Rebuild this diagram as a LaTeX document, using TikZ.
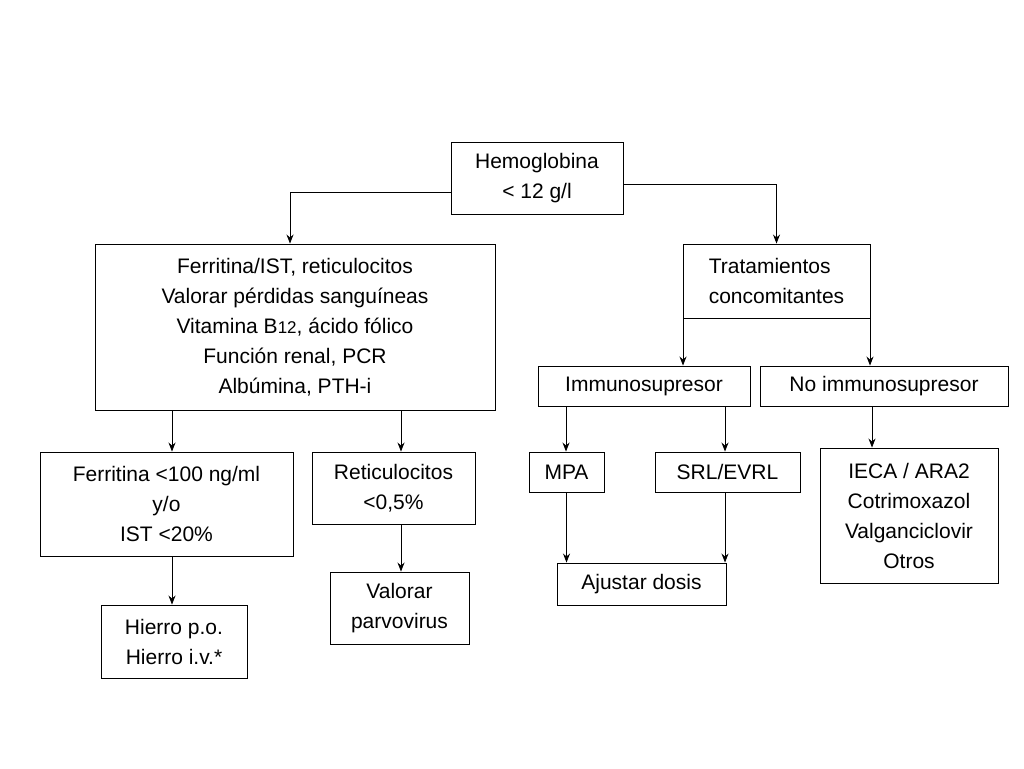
\documentclass[tikz,border=0pt]{standalone}
\usepackage{fontspec}
\setmainfont{Liberation Sans}
\usetikzlibrary{arrows.meta}
\begin{document}
\begin{tikzpicture}[x=1pt,y=-1pt,
  box/.style={draw,line width=0.9pt,inner sep=0pt,align=center,font=\fontsize{21}{30}\selectfont},
  arr/.style={line width=0.9pt,-{Stealth[length=9pt,width=7pt]}}]
\useasboundingbox (0,0) rectangle (1024,768);
\node[box,minimum width=172,minimum height=72] (h) at (537,178) {Hemoglobina\\< 12 g/l};
\node[box,minimum width=400,minimum height=166] (f) at (295,327) {Ferritina/IST, reticulocitos\\Valorar pérdidas sanguíneas\\Vitamina B{\fontsize{17}{20}\selectfont 12}, ácido fólico\\Función renal, PCR\\Albúmina, PTH-i};
\node[box,minimum width=187,minimum height=74,align=left] (t) at (776.5,281) {Tratamientos\\concomitantes};
\node[box,minimum width=212,minimum height=40] (i) at (644,386) {Immunosupresor};
\node[box,minimum width=248,minimum height=40] (n) at (884,386) {No immunosupresor};
\node[box,minimum width=253,minimum height=104] (f1) at (166.5,504) {Ferritina <100 ng/ml\\y/o\\IST <20\%};
\node[box,minimum width=163,minimum height=72] (r) at (393.5,488) {Reticulocitos\\<0,5\%};
\node[box,minimum width=75,minimum height=40] (m) at (566.5,472) {MPA};
\node[box,minimum width=145,minimum height=40] (s) at (727.5,472) {SRL/EVRL};
\node[box,minimum width=178,minimum height=135] (e) at (909,515.5) {IECA / ARA2\\Cotrimoxazol\\Valganciclovir\\Otros};
\node[box,minimum width=169,minimum height=42] (a) at (641.5,584) {Ajustar dosis};
\node[box,minimum width=146,minimum height=73] (hi) at (174,641.5) {Hierro p.o.\\Hierro i.v.*};
\node[box,minimum width=139,minimum height=72] (v) at (399.5,608) {Valorar\\parvovirus};
\draw[arr] (h.west |- 0,192) -| (f.north -| 290,0);
\draw[arr] (h.east |- 0,184) -| (t.north);
\draw[arr] (t.south -| 683,0) -- (i.north -| 683,0);
\draw[arr] (t.south -| 870,0) -- (n.north -| 870,0);
\draw[arr] (f.south -| 172,0) -- (f1.north -| 172,0);
\draw[arr] (f.south -| 401,0) -- (r.north -| 401,0);
\draw[arr] (i.south -| 566,0) -- (m.north -| 566,0);
\draw[arr] (i.south -| 725,0) -- (s.north -| 725,0);
\draw[arr] (n.south -| 872,0) -- (e.north -| 872,0);
\draw[arr] (f1.south -| 172,0) -- (hi.north -| 172,0);
\draw[arr] (r.south -| 401,0) -- (v.north -| 401,0);
\draw[arr] (m.south) -- (a.north -| m.south);
\draw[arr] (s.south -| 725,0) -- (a.north -| 725,0);
\end{tikzpicture}
\end{document}
